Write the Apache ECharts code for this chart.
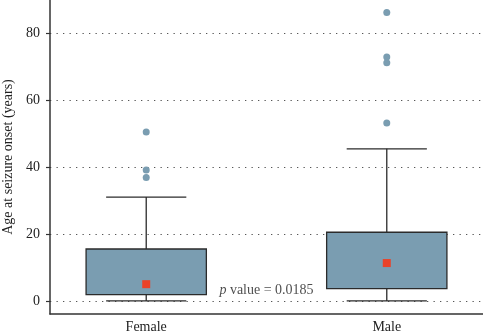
<!DOCTYPE html>
<html>
<head>
<meta charset="utf-8">
<script src="https://cdn.jsdelivr.net/npm/echarts@6/dist/echarts.min.js"></script>
<style>html,body{margin:0;padding:0;background:#fff;}#c{width:483px;height:331px;}</style>
</head>
<body>
<div id="c"></div>
<script>
var categories = ['Female', 'Male'];
var catPos = [1, 2];
var minVals = [0, 0];
var q1Vals = [1.9, 3.7];
var q3Vals = [15.5, 20.5];
var maxVals = [31, 45.4];
var meanVals = [5.0, 11.3];
var outliersFemale = [50.4, 39.1, 36.8];
var outliersMale = [86.1, 72.8, 71.1, 53.1];
var yTicks = [0, 20, 40, 60, 80];
var pValueText = '0.0185';
var pValuePos = [1.5, 3.3];

var FONT = 'Liberation Serif';
var boxData = catPos.map(function (x, i) { return [x, minVals[i], q1Vals[i], q3Vals[i], maxVals[i]]; });
var meanData = catPos.map(function (x, i) { return [x, meanVals[i]]; });
var outlierData = [];
outliersFemale.forEach(function (v) { outlierData.push([catPos[0], v]); });
outliersMale.forEach(function (v) { outlierData.push([catPos[1], v]); });

var chart = echarts.init(document.getElementById('c'), null, {renderer: 'canvas'});
chart.setOption({
  animation: false,
  backgroundColor: '#fff',
  textStyle: {fontFamily: FONT},
  grid: {left: 50, right: 0, top: 0, bottom: 17, containLabel: false, outerBoundsMode: 'none'},
  xAxis: {
    type: 'value', min: 0.6, max: 2.4,
    axisLine: {show: true, onZero: false, lineStyle: {color: '#333', width: 1.5}},
    axisTick: {show: false},
    splitLine: {show: false},
    axisLabel: {
      customValues: catPos, margin: 6,
      color: '#222', fontSize: 14, fontFamily: FONT,
      formatter: function (v) { var i = catPos.indexOf(v); return i >= 0 ? categories[i] : ''; }
    }
  },
  yAxis: {
    type: 'value', min: -3.9, max: 89.8,
    name: 'Age at seizure onset (years)', nameLocation: 'middle', nameGap: 32,
    nameTextStyle: {color: '#222', fontSize: 14, fontFamily: FONT},
    axisLine: {show: true, onZero: false, lineStyle: {color: '#333', width: 1.5}},
    axisTick: {show: true, customValues: yTicks, length: 4, lineStyle: {color: '#333', width: 1.2}},
    axisLabel: {customValues: yTicks, margin: 10, color: '#222', fontSize: 14, fontFamily: FONT},
    splitLine: {show: true, lineStyle: {color: '#555', width: 1.2, type: [1.3, 5.2]}}
  },
  series: [
    {
      type: 'custom',
      data: boxData,
      z: 3,
      renderItem: function (params, api) {
        var x = api.value(0);
        var pMin = api.coord([x, api.value(1)]);
        var pQ1 = api.coord([x, api.value(2)]);
        var pQ3 = api.coord([x, api.value(3)]);
        var pMax = api.coord([x, api.value(4)]);
        var halfBox = api.size([0.25, 0])[0];
        var halfCap = api.size([1 / 6, 0])[0];
        var ls = {stroke: '#2b2b2b', lineWidth: 1.3};
        return {
          type: 'group',
          children: [
            {type: 'line', shape: {x1: pMin[0], y1: pMin[1], x2: pQ1[0], y2: pQ1[1]}, style: ls},
            {type: 'line', shape: {x1: pQ3[0], y1: pQ3[1], x2: pMax[0], y2: pMax[1]}, style: ls},
            {type: 'line', shape: {x1: pMin[0] - halfCap, y1: pMin[1], x2: pMin[0] + halfCap, y2: pMin[1]}, style: ls},
            {type: 'line', shape: {x1: pMax[0] - halfCap, y1: pMax[1], x2: pMax[0] + halfCap, y2: pMax[1]}, style: ls},
            {type: 'rect', shape: {x: pQ3[0] - halfBox, y: pQ3[1], width: halfBox * 2, height: pQ1[1] - pQ3[1]},
             style: {fill: '#7a9db1', stroke: '#2b2b2b', lineWidth: 1.3}}
          ]
        };
      }
    },
    {
      type: 'scatter', data: outlierData, symbol: 'circle', symbolSize: 7, z: 4,
      itemStyle: {color: '#7a9db1', opacity: 1}
    },
    {
      type: 'scatter', data: meanData, symbol: 'rect', symbolSize: 8, z: 5,
      itemStyle: {color: '#ea4228', opacity: 1}
    },
    {
      type: 'scatter', data: [pValuePos], symbolSize: 0, z: 6, silent: true,
      label: {
        show: true, position: 'inside',
        formatter: '{i|p} value = ' + pValueText,
        color: '#222', fontSize: 14, fontFamily: FONT,
        rich: {i: {fontStyle: 'italic', fontSize: 14, fontFamily: FONT, color: '#222'}}
      }
    }
  ]
});
</script>
</body>
</html>
